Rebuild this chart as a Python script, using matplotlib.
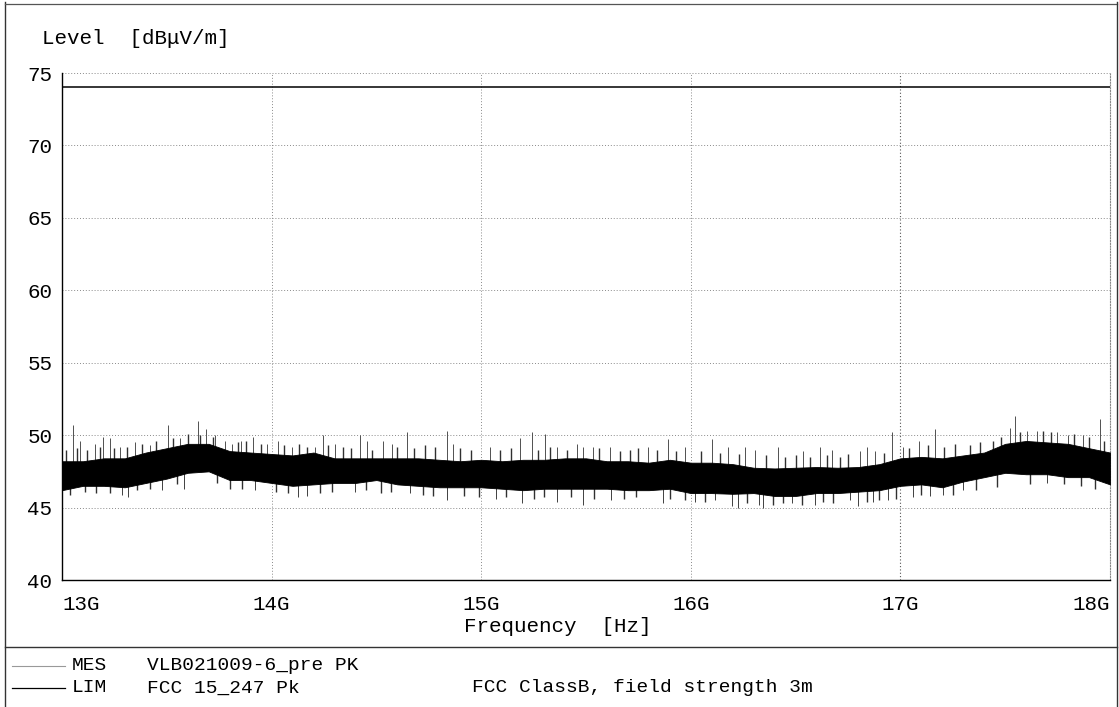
import matplotlib
matplotlib.use("Agg")
import matplotlib.pyplot as plt
from matplotlib.lines import Line2D

# ---------------- data ----------------
freq_ghz = [13.0 + 0.1 * i for i in range(51)]
band_top = [48.2, 48.2, 48.4, 48.4, 48.8, 49.1, 49.4, 49.4, 48.9, 48.8,
            48.7, 48.6, 48.8, 48.4, 48.4, 48.4, 48.4, 48.4, 48.3, 48.2,
            48.3, 48.2, 48.3, 48.3, 48.4, 48.4, 48.2, 48.2, 48.1, 48.3,
            48.1, 48.1, 48.0, 47.75, 47.7, 47.75, 47.8, 47.75, 47.8, 48.0,
            48.4, 48.5, 48.4, 48.6, 48.8, 49.4, 49.6, 49.5, 49.4, 49.1, 48.8]
band_bot = [46.2, 46.5, 46.5, 46.4, 46.7, 47.0, 47.4, 47.5, 46.9, 46.9,
            46.7, 46.5, 46.6, 46.7, 46.7, 46.9, 46.6, 46.5, 46.4, 46.4,
            46.4, 46.3, 46.2, 46.3, 46.3, 46.3, 46.3, 46.2, 46.2, 46.3,
            46.0, 46.0, 45.95, 46.0, 45.8, 45.8, 46.0, 46.0, 46.1, 46.2,
            46.5, 46.6, 46.4, 46.8, 47.1, 47.4, 47.3, 47.3, 47.1, 47.1, 46.6]

# tall isolated peaks
spike_up_f = [13.052, 13.086, 13.157, 13.196, 13.229, 13.277, 13.348, 13.42,
              13.506, 13.563, 13.649, 13.687, 13.73, 13.778, 13.811, 13.854,
              13.911, 13.978, 14.031, 14.097, 14.207, 14.245, 14.302, 14.422,
              14.455, 14.532, 14.574, 14.646, 14.837, 14.866, 15.042, 15.185,
              15.242, 15.304, 15.362, 15.457, 15.486, 15.533, 15.615, 15.796,
              15.891, 15.973, 16.101, 16.178, 16.259, 16.306, 16.416, 16.535,
              16.616, 16.674, 16.807, 16.841, 16.879, 16.96, 17.012, 17.089,
              17.165, 17.523, 17.547, 17.604, 17.652, 17.747, 17.8, 17.871, 17.952]
spike_up_v = [50.7, 49.6, 49.4, 49.9, 49.8, 49.2, 49.5, 49.3,
              50.7, 49.8, 51.0, 50.4, 50.0, 49.6, 49.4, 49.6,
              49.9, 49.4, 49.6, 49.2, 49.2, 50.0, 49.4, 50.0,
              49.6, 49.6, 49.4, 50.2, 50.3, 49.4, 49.2, 49.8,
              50.2, 50.1, 49.2, 49.4, 49.2, 49.2, 49.2, 49.2,
              49.7, 49.2, 49.7, 49.2, 49.2, 49.0, 49.2, 48.9,
              49.2, 49.0, 48.9, 49.2, 48.9, 50.2, 49.2, 49.6,
              50.4, 50.5, 51.3, 50.3, 50.3, 50.2, 50.0, 50.0, 51.1]

# smaller peaks just above the dense band
spike_up2_f = [13.02, 13.07, 13.12, 13.18, 13.25, 13.31, 13.38, 13.45, 13.53,
               13.6, 13.66, 13.72, 13.84, 13.88, 13.95, 14.06, 14.13, 14.17,
               14.27, 14.34, 14.38, 14.48, 14.6, 14.68, 14.73, 14.78, 14.9,
               14.95, 15.09, 15.14, 15.27, 15.33, 15.41, 15.56, 15.66, 15.71,
               15.75, 15.84, 15.93, 16.05, 16.14, 16.23, 16.36, 16.45, 16.5,
               16.57, 16.65, 16.71, 16.75, 16.92, 17.04, 17.13, 17.21, 17.26,
               17.33, 17.38, 17.44, 17.48, 17.57, 17.68, 17.72, 17.83, 17.9,
               17.97]
spike_up2_v = [49.0, 49.1, 49.0, 49.2, 49.1, 49.2, 49.4, 49.6, 49.8,
               50.1, 50.0, 49.9, 49.5, 49.6, 49.4, 49.3, 49.4, 49.2,
               49.3, 49.2, 49.1, 49.0, 49.2, 49.1, 49.3, 49.2, 49.1,
               49.0, 49.0, 49.1, 49.0, 49.2, 49.0, 49.1, 48.9, 49.0,
               49.1, 49.0, 48.9, 48.9, 48.8, 48.7, 48.6, 48.5, 48.6,
               48.5, 48.6, 48.5, 48.7, 48.8, 49.1, 49.3, 49.2, 49.4,
               49.3, 49.5, 49.6, 49.9, 50.2, 50.3, 50.2, 50.1, 49.9,
               49.6]

# dips below the dense band
spike_dn_f = [13.0, 13.286, 13.315, 13.477, 13.582, 13.921, 14.126, 14.169,
              14.397, 14.661, 14.837, 15.071, 15.195, 15.362, 15.486, 15.62,
              15.867, 16.021, 16.116, 16.197, 16.225, 16.326, 16.345, 16.483,
              16.593, 16.76, 16.799, 16.869, 16.941, 17.061, 17.142, 17.203,
              17.298, 17.7, 18.0]
spike_dn_v = [45.9, 45.9, 45.7, 46.2, 46.3, 46.2, 45.7, 45.8,
              46.1, 46.0, 45.5, 45.6, 45.3, 45.4, 45.2, 45.5,
              45.3, 45.4, 45.5, 45.1, 45.0, 45.2, 45.0, 45.3,
              45.2, 45.5, 45.1, 45.4, 45.5, 45.7, 45.8, 45.9,
              46.2, 46.7, 46.2]
spike_dn2_f = [13.04, 13.11, 13.16, 13.23, 13.36, 13.42, 13.55, 13.74, 13.8,
               13.86, 14.02, 14.08, 14.23, 14.29, 14.45, 14.52, 14.57, 14.72,
               14.77, 14.92, 14.99, 15.12, 15.25, 15.3, 15.43, 15.54, 15.68,
               15.74, 15.9, 15.97, 16.07, 16.27, 16.39, 16.44, 16.53, 16.63,
               16.68, 16.84, 16.9, 16.98, 17.1, 17.25, 17.36, 17.46, 17.62,
               17.78, 17.86, 17.93]
spike_dn2_v = [45.9, 46.1, 46.0, 46.0, 46.2, 46.3, 46.6, 46.7, 46.3,
               46.3, 46.1, 46.0, 46.0, 46.1, 46.2, 46.0, 46.1, 45.9,
               45.8, 45.8, 45.7, 45.7, 45.6, 45.7, 45.7, 45.6, 45.6,
               45.7, 45.6, 45.5, 45.4, 45.3, 45.2, 45.3, 45.2, 45.4,
               45.3, 45.4, 45.5, 45.6, 45.9, 45.9, 46.2, 46.4, 46.6,
               46.6, 46.5, 46.3]

limit_f = [13.0, 18.0]
limit_v = [74.0, 74.0]

y_ticks = [40, 45, 50, 55, 60, 65, 70, 75]
x_ticks = [13, 14, 15, 16, 17, 18]
x_tick_labels = ["13G", "14G", "15G", "16G", "17G", "18G"]

# ---------------- figure ----------------
FONT = ["Liberation Mono", "DejaVu Sans Mono"]
plt.rcParams["font.family"] = FONT

W, H = 1119, 707
fig = plt.figure(figsize=(W / 100, H / 100), dpi=100)
fig.patch.set_facecolor("white")


def fx(px):
    return px / W


def fy(py):
    return 1 - py / H


def band_at(arr, f):
    return arr[min(50, int(round((f - 13) * 10)))]


ax = fig.add_axes([fx(62), fy(580), fx(1110) - fx(62), fy(73) - fy(580)])
ax.set_xlim(13, 18)
ax.set_ylim(40, 75)

# grid
for yv in y_ticks[1:]:
    ax.axhline(yv, color="#8a8a8a", lw=0.7, ls=(0, (1, 2)), zorder=1)
for xv in x_ticks[1:-1]:
    col = "#555555" if xv == 17 else "#8a8a8a"
    ax.axvline(xv, color=col, lw=0.8 if xv == 17 else 0.7, ls=(0, (1, 2)), zorder=1)

# measurement trace: dense band + spikes
ax.vlines(spike_up_f, [band_at(band_top, f) - 0.5 for f in spike_up_f],
          spike_up_v, color="#505050", lw=0.7, zorder=2)
ax.vlines(spike_up2_f, [band_at(band_top, f) - 0.5 for f in spike_up2_f],
          spike_up2_v, color="#303030", lw=1.0, zorder=2)
ax.vlines(spike_dn_f, spike_dn_v,
          [band_at(band_bot, f) + 0.5 for f in spike_dn_f],
          color="#404040", lw=0.7, zorder=2)
ax.vlines(spike_dn2_f, spike_dn2_v,
          [band_at(band_bot, f) + 0.5 for f in spike_dn2_f],
          color="#303030", lw=1.0, zorder=2)
ax.fill_between(freq_ghz, band_bot, band_top, color="black", lw=0.6, zorder=3)

# limit line
ax.plot(limit_f, limit_v, color="black", lw=1.1, zorder=4)

# spines
ax.spines["top"].set_visible(False)
ax.spines["right"].set_color("#8a8a8a")
ax.spines["right"].set_linestyle((0, (1, 1.5)))
ax.spines["right"].set_linewidth(0.8)
ax.spines["left"].set_linewidth(1.0)
ax.spines["bottom"].set_linewidth(1.0)

ax.set_yticks(y_ticks)
ax.set_yticklabels([str(v) for v in y_ticks], fontsize=15)
ax.set_xticks(x_ticks)
ax.set_xticklabels(x_tick_labels, fontsize=15)
ax.tick_params(axis="both", length=0)
ax.tick_params(axis="y", pad=7)
ax.tick_params(axis="x", pad=11)
labs = ax.get_xticklabels()
labs[0].set_ha("left")
labs[-1].set_ha("right")

# texts
fig.text(fx(42), fy(38), "Level  [dBμV/m]", fontsize=15, va="center", ha="left")
fig.text(fx(558), fy(626), "Frequency  [Hz]", fontsize=15, va="center", ha="center")

# frame lines
fig.add_artist(Line2D([fx(5), fx(5)], [fy(2), fy(707)], color="#333333", lw=1.0))
fig.add_artist(Line2D([fx(5), fx(1117)], [fy(4), fy(4)], color="#555555", lw=0.9))
fig.add_artist(Line2D([fx(1117), fx(1117)], [fy(2), fy(707)], color="#333333", lw=1.0))
fig.add_artist(Line2D([fx(5), fx(1117)], [fy(647), fy(647)], color="#333333", lw=1.0))

# legend block
fig.add_artist(Line2D([fx(12), fx(65)], [fy(666), fy(666)], color="#999999", lw=0.8))
fig.add_artist(Line2D([fx(12), fx(65)], [fy(688), fy(688)], color="black", lw=0.9))
fig.text(fx(72), fy(666), "MES", fontsize=14, va="center", ha="left")
fig.text(fx(147), fy(666), "VLB021009-6_pre PK", fontsize=14, va="center", ha="left")
fig.text(fx(72), fy(688), "LIM", fontsize=14, va="center", ha="left")
fig.text(fx(147), fy(688), "FCC 15_247 Pk", fontsize=14, va="center", ha="left")
fig.text(fx(472), fy(688), "FCC ClassB, field strength 3m", fontsize=14, va="center", ha="left")

fig.savefig("out.png", dpi=100, facecolor="white")
